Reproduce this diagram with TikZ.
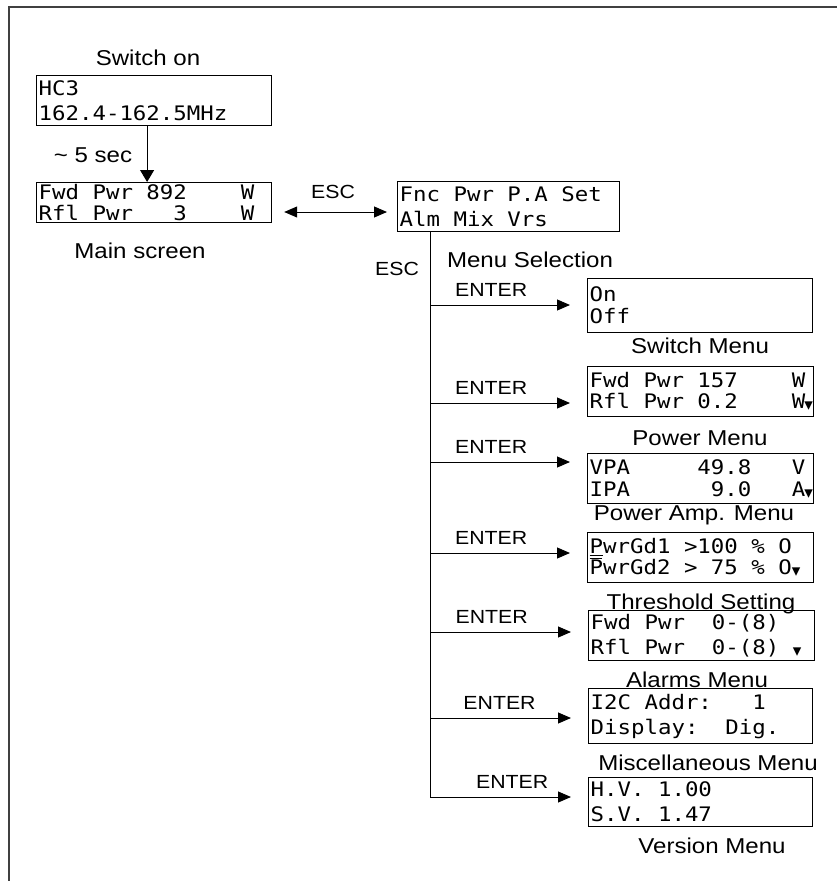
\documentclass[tikz,border=0pt]{standalone}
\usepackage{fontspec}
\setmainfont[FakeStretch=1.12]{Liberation Sans}
\newfontfamily\lcdfamily[FakeStretch=1.12]{DejaVu Sans Mono}
\newfontfamily\arrowfamily{DejaVu Sans}
\usepackage{tikz}
\usetikzlibrary{arrows.meta, positioning}

\newcommand{\lcdfont}{\lcdfamily\fontsize{20}{22}\selectfont}
\newcommand{\lcdcell}{\spaceskip=\fontcharwd\font`\0\relax\xspaceskip=\spaceskip}
\newcommand{\lcddown}{{\arrowfamily\fontsize{17}{17}\selectfont\raisebox{-2pt}{▾}}}

\tikzset{
    lcd/.style n args = {2}{draw, line width=1.2pt, anchor=north west, inner xsep=2pt, inner ysep=0pt,
        align=left, text width=#1, minimum height=#2, font=\lcdfont, execute at begin node=\lcdcell},
    lbl/.style = {anchor=base, font=\fontsize{21.5}{24}\selectfont},
    keylbl/.style = {anchor=base, font=\fontsize{19}{22}\selectfont},
    entry/.style = {line width=1pt, -{Triangle[length=13pt, width=11pt]}, shorten >=17pt},
}

\begin{document}
\begin{tikzpicture}[x=1pt, y=-1pt]
            \useasboundingbox (0, 0) rectangle (837, 881);
            \draw [line width=2pt, black!75] (9, 881) -- (9, 7) -- (837, 7);

            \node [lbl] (switchon) at (148, 65) {Switch on};
            \node [lcd={231pt}{50pt}] (hc) at (36, 75) {HC3\\[3pt]162.4-162.5MHz};
            \node [lcd={231pt}{40pt}] (main) at (36, 182) {Fwd~Pwr~892~~~~W\\[-1pt]Rfl~Pwr~~~3~~~~W};
            \node [lbl] (mainlbl) at (140, 258) {Main screen};
            \node [lbl] (delay) at (93, 162) {\textasciitilde{} 5 sec};

            \node [lcd={218pt}{50pt}] (menu) at (397, 181) {Fnc~Pwr~P.A~Set\\[3pt]Alm~Mix~Vrs};
            \node [keylbl] (esctop) at (333, 198) {ESC};
            \node [keylbl] (escleft) at (397, 275) {ESC};
            \node [lbl] (menusel) at (530, 267) {Menu Selection};

            \node [lcd={221pt}{54pt}] (switch) at (587, 278) {On\\Off};
            \node [lbl] (switchlbl) at (700, 353) {Switch Menu};
            \node [lcd={222pt}{50pt}] (power) at (587, 366) {Fwd~Pwr~157~~~~W\\[-1pt]Rfl~Pwr~0.2~~~~W\kern-1pt\lcddown};
            \node [lbl] (powerlbl) at (700, 445) {Power Menu};
            \node [lcd={222pt}{50pt}] (amp) at (587, 453) {VPA~~~~~49.8~~~V\\IPA~~~~~~9.0~~~A\kern-1pt\lcddown};
            \node [lbl] (amplbl) at (694, 520) {Power Amp. Menu};
            \node [lcd={222pt}{50pt}] (thres) at (587, 532) {\underline{P}wrGd1~>100~\%~O\\[-1pt]\makebox[0pt][l]{\rule[16pt]{12pt}{1pt}}PwrGd2~>~75~\%~O\lcddown};
            \node [lbl] (threslbl) at (701, 609) {Threshold Setting};
            \node [lcd={222pt}{50pt}] (alarm) at (588, 610) {Fwd~Pwr~~0-(8)\\[3pt]Rfl~Pwr~~0-(8)~\lcddown};
            \node [lbl] (alarmlbl) at (697, 687) {Alarms Menu};
            \node [lcd={220pt}{55pt}] (misc) at (588, 688) {I2C~Addr:~~~1\\[3pt]Display:~~Dig.};
            \node [lbl] (misclbl) at (708, 770) {Miscellaneous Menu};
            \node [lcd={220pt}{49pt}] (version) at (588, 777) {H.V.~1.00\\[3pt]S.V.~1.47};
            \node [lbl] (versionlbl) at (712, 853) {Version Menu};

            \draw [line width=1pt, -{Triangle[length=12pt, width=14pt]}] ([xshift=-7pt]hc.south) -- ([xshift=-7pt]main.north);
            \draw [line width=1pt, {Triangle[length=13pt, width=11pt]}-{Triangle[length=13pt, width=11pt]},
                shorten <=12pt, shorten >=10pt] (main.east |- 0, 212) -- (menu.west |- 0, 212);

            \coordinate (spine) at (430, 232);
            \coordinate (b1) at (430, 305);
            \coordinate (b2) at (430, 403);
            \coordinate (b3) at (430, 462);
            \coordinate (b4) at (430, 553);
            \coordinate (b5) at (430, 632);
            \coordinate (b6) at (430, 718);
            \coordinate (b7) at (430, 797);
            \draw [line width=1pt] (spine) -- (b7);

            \draw [entry] (b1) -- node[keylbl, above=5pt, pos=0.39]{ENTER} (b1 -| switch.west);
            \draw [entry] (b2) -- node[keylbl, above=5pt, pos=0.39]{ENTER} (b2 -| power.west);
            \draw [entry] (b3) -- node[keylbl, above=5pt, pos=0.39]{ENTER} (b3 -| amp.west);
            \draw [entry] (b4) -- node[keylbl, above=5pt, pos=0.39]{ENTER} (b4 -| thres.west);
            \draw [entry] (b5) -- node[keylbl, above=5pt, pos=0.39]{ENTER} (b5 -| alarm.west);
            \draw [entry] (b6) -- node[keylbl, above=5pt, pos=0.44]{ENTER} (b6 -| misc.west);
            \draw [entry] (b7) -- node[keylbl, above=5pt, pos=0.52]{ENTER} (b7 -| version.west);
\end{tikzpicture}
\end{document}
